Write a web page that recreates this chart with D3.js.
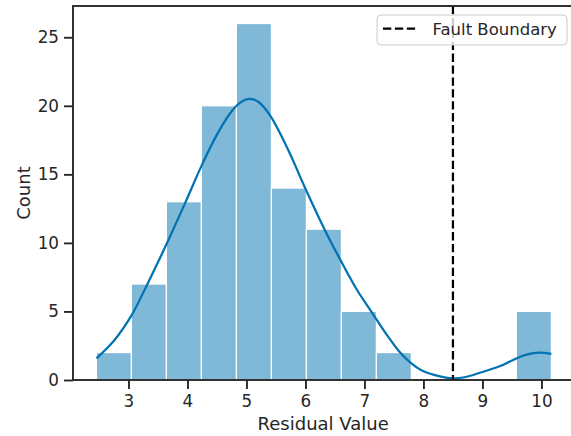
<!DOCTYPE html>
<html>
<head>
<meta charset="utf-8">
<script src="https://cdn.jsdelivr.net/npm/d3@7"></script>
<style>
  html, body { margin: 0; padding: 0; background: #fff; }
  svg { display: block; }
  text { font-family: "DejaVu Sans", sans-serif; fill: #262626; }
</style>
</head>
<body>
<svg id="chart" width="571" height="436"></svg>
<script>
// ---- data ----
const binEdges = [2.457, 3.050, 3.643, 4.236, 4.830, 5.423, 6.016, 6.609, 7.202, 7.795, 8.389, 8.982, 9.575, 10.168];
const binCounts = [2, 7, 13, 20, 26, 14, 11, 5, 2, 0, 0, 0, 5];
const kdeX = [2.457, 2.75, 3.05, 3.31, 3.65, 3.96, 4.236, 4.50, 4.75, 4.90, 5.05, 5.20, 5.40, 5.71, 6.00, 6.33, 6.60, 6.87, 7.125, 7.37, 7.605, 7.77, 7.95, 8.30, 8.50, 8.70, 8.96, 9.30, 9.64, 9.82, 9.98, 10.168];
const kdeY = [1.58, 2.85, 4.7, 6.9, 9.96, 12.9, 15.6, 17.9, 19.6, 20.25, 20.5, 20.3, 19.3, 16.76, 13.95, 10.93, 8.7, 6.6, 4.93, 3.35, 2.0, 1.3, 0.75, 0.24, 0.12, 0.2, 0.53, 1.02, 1.7, 1.92, 1.99, 1.9];
const xTicks = [3, 4, 5, 6, 7, 8, 9, 10];
const yTicks = [0, 5, 10, 15, 20, 25];
const boundaryValue = 8.5;
const legendLabel = "Fault Boundary";
const xLabel = "Residual Value";
const yLabel = "Count";

// ---- layout ----
const svg = d3.select("#chart");
const mLeft = 73, mTop = 6, mBottom = 380, mRight = 573.3;
const x = d3.scaleLinear().domain([2.06, 10.54]).range([mLeft, mRight]);
const y = d3.scaleLinear().domain([0, 27.28]).range([mBottom, mTop]);
const ink = "#262626";
const blue = "#0173b2";

// bars
const bins = binCounts.map((c, i) => ({x0: binEdges[i], x1: binEdges[i + 1], c}));
svg.append("g").selectAll("rect").data(bins.filter(d => d.c > 0)).join("rect")
  .attr("x", d => x(d.x0))
  .attr("width", d => x(d.x1) - x(d.x0))
  .attr("y", d => y(d.c))
  .attr("height", d => y(0) - y(d.c))
  .attr("fill", blue).attr("fill-opacity", 0.5)
  .attr("stroke", "#fff").attr("stroke-width", 1.2);

// kde line
const line = d3.line().x(d => x(d[0])).y(d => y(d[1])).curve(d3.curveCatmullRom.alpha(0.5));
svg.append("path").datum(kdeX.map((v, i) => [v, kdeY[i]]))
  .attr("d", line).attr("fill", "none")
  .attr("stroke", blue).attr("stroke-width", 2.25);

// boundary
svg.append("line")
  .attr("x1", x(boundaryValue)).attr("x2", x(boundaryValue))
  .attr("y1", y.range()[1]).attr("y2", y(0))
  .attr("stroke", "#000").attr("stroke-width", 2.25)
  .attr("stroke-dasharray", "8.3,3.6");

// axes
const xAxis = d3.axisBottom(x).tickValues(xTicks).tickFormat(d3.format("d")).tickSize(9).tickPadding(5);
const yAxis = d3.axisLeft(y).tickValues(yTicks).tickFormat(d3.format("d")).tickSize(9).tickPadding(5);
const gx = svg.append("g").attr("transform", `translate(0,${mBottom})`).call(xAxis);
const gy = svg.append("g").attr("transform", `translate(${mLeft},0)`).call(yAxis);
[gx, gy].forEach(g => {
  g.select(".domain").remove();
  g.selectAll(".tick line").attr("stroke", ink).attr("stroke-width", 1.875);
  g.selectAll(".tick text").attr("fill", ink).style("font-size", "16.8px")
    .style("font-family", '"DejaVu Sans", sans-serif');
});
gx.selectAll(".tick text").attr("dy", "0.76em");

// spines
svg.append("rect").attr("x", mLeft).attr("y", mTop)
  .attr("width", mRight - mLeft).attr("height", mBottom - mTop)
  .attr("fill", "none").attr("stroke", ink).attr("stroke-width", 1.875);

// labels
svg.append("text").attr("x", (mLeft + mRight) / 2).attr("y", 430)
  .attr("text-anchor", "middle").style("font-size", "18px").text(xLabel);
svg.append("text").attr("transform", `translate(30,${(mTop + mBottom) / 2}) rotate(-90)`)
  .attr("text-anchor", "middle").style("font-size", "18px").text(yLabel);

// legend
const lg = svg.append("g");
lg.append("rect").attr("x", 377).attr("y", 15).attr("width", 190).attr("height", 30)
  .attr("rx", 4).attr("fill", "#fff").attr("fill-opacity", 0.8)
  .attr("stroke", "#cccccc").attr("stroke-width", 1);
lg.append("line").attr("x1", 383).attr("x2", 416).attr("y1", 28.5).attr("y2", 28.5)
  .attr("stroke", "#000").attr("stroke-width", 2.25).attr("stroke-dasharray", "8.3,3.6");
lg.append("text").attr("x", 432.5).attr("y", 34.5).style("font-size", "16.5px").text(legendLabel);
</script>
</body>
</html>
